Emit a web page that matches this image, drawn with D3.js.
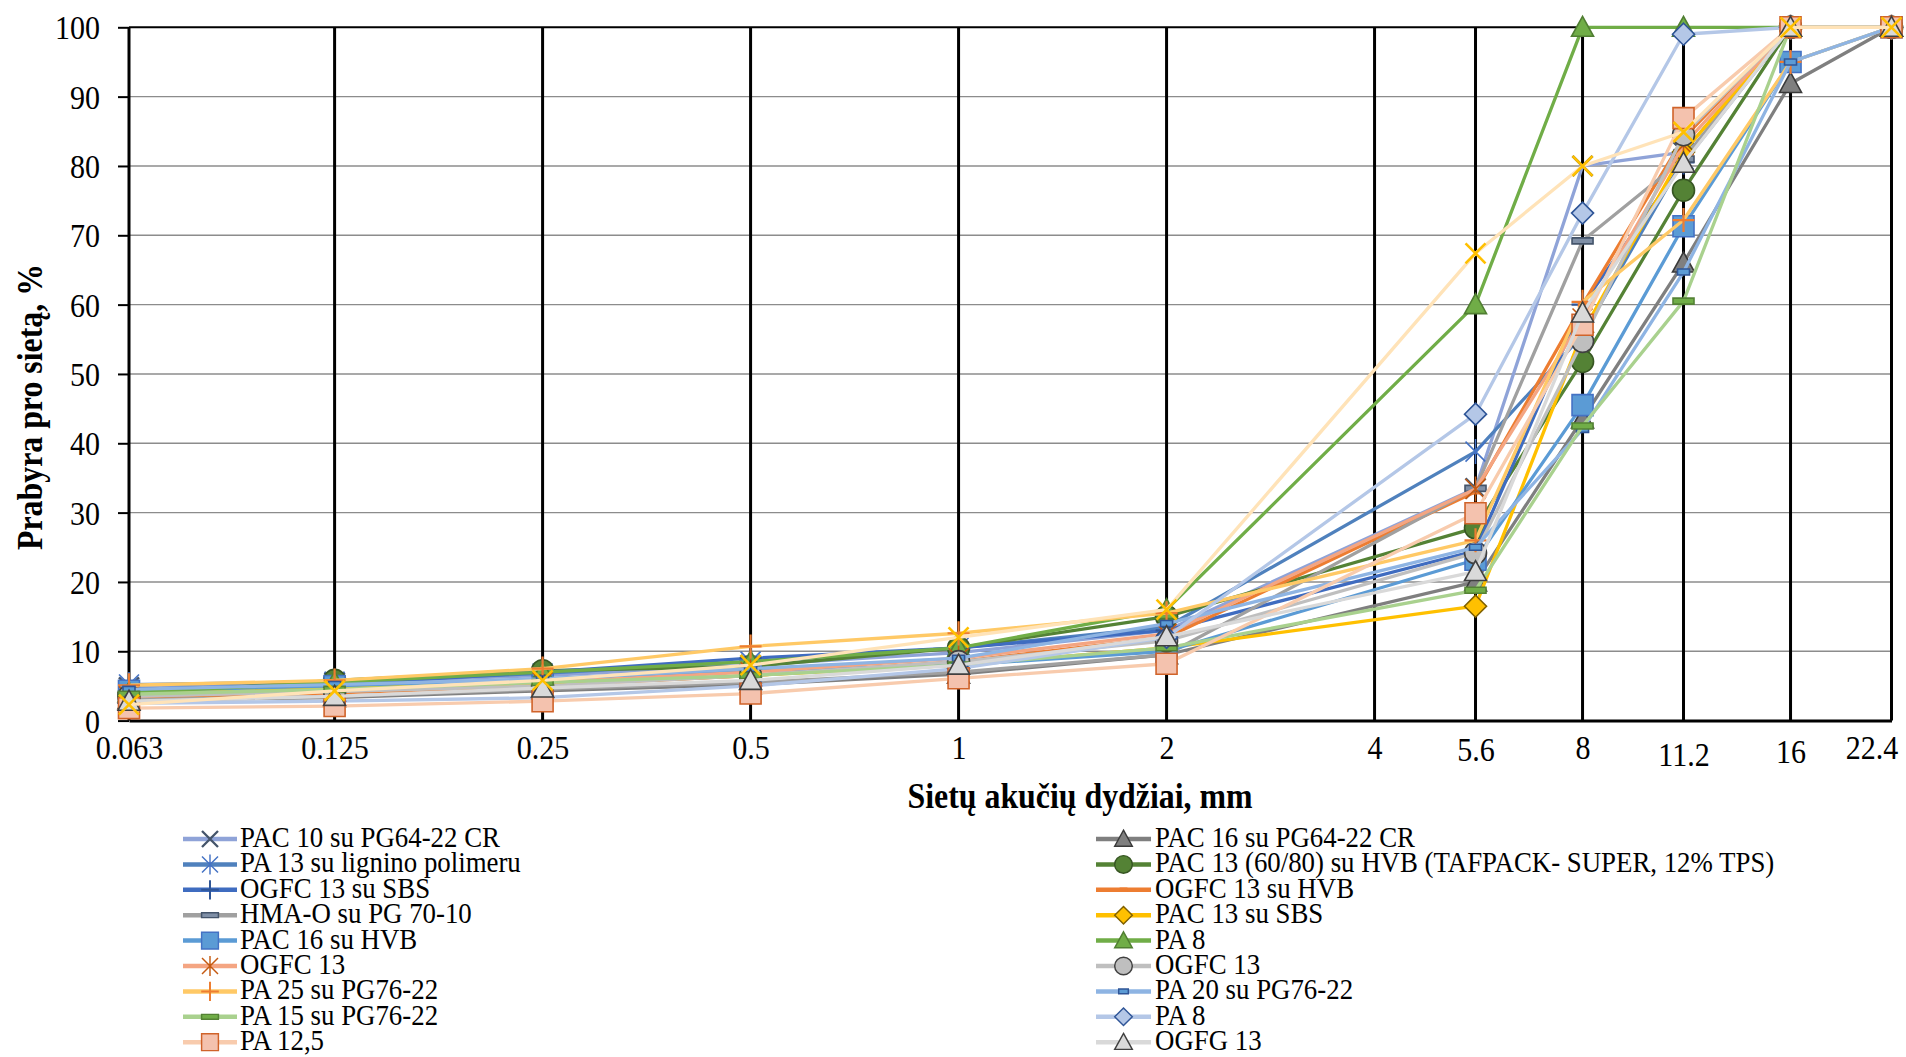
<!DOCTYPE html>
<html>
<head>
<meta charset="utf-8">
<script src="https://cdn.jsdelivr.net/npm/d3@7"></script>
<style>
  body { margin: 0; background: #fff; }
  svg { display: block; }
  text { font-family: "Liberation Serif", "Times New Roman", serif !important; fill: #000; }
</style>
</head>
<body>
<svg id="chart" width="1906" height="1057"></svg>
<script>
// Sieve sizes (mm) that carry measurements, and the sizes that get a vertical line + label
const sieves = [0.063, 0.125, 0.25, 0.5, 1, 2, 5.6, 8, 11.2, 16, 22.4];
const gridSieves = [0.063, 0.125, 0.25, 0.5, 1, 2, 4, 5.6, 8, 11.2, 16, 22.4];
const yTickValues = [0, 10, 20, 30, 40, 50, 60, 70, 80, 90, 100];

// Passing percentages per mixture, one value per entry of `sieves`
const pac10Cr      = [4.8, 5.5, 6.5, 8.0, 9.8, 13.0, 33.5, 80.0, 82.0, 100, 100];
const pac16Cr      = [3.0, 3.3, 4.3, 5.2, 6.7, 9.5, 20.0, 43.5, 66.0, 91.9, 100];
const pa13Lignin   = [5.2, 5.6, 6.8, 8.5, 10.5, 13.5, 38.8, 55.6, 81.0, 100, 100];
const pac13Tps     = [3.8, 5.8, 7.2, 7.8, 10.5, 15.0, 27.8, 51.8, 76.5, 100, 100];
const ogfc13Sbs    = [4.5, 5.2, 7.0, 9.0, 10.5, 13.0, 24.5, 60.0, 80.5, 100, 100];
const ogfc13Hvb    = [3.3, 4.0, 5.0, 6.5, 8.5, 12.0, 33.0, 60.0, 84.0, 100, 100];
const hmaO         = [3.0, 3.5, 4.5, 5.5, 7.0, 9.5, 33.5, 69.2, 81.0, 100, 100];
const pac13Sbs     = [4.0, 4.8, 5.2, 6.5, 8.0, 10.5, 16.5, 56.0, 82.0, 100, 100];
const pac16Hvb     = [4.3, 5.0, 6.0, 7.2, 8.0, 10.0, 23.2, 45.5, 71.3, 95.0, 100];
const pa8Tri       = [4.0, 5.5, 7.0, 8.5, 10.5, 16.0, 60.0, 100, 100, 100, 100];
const ogfc13Star   = [3.5, 4.3, 5.5, 7.0, 9.0, 12.5, 33.4, 58.0, 83.0, 100, 100];
const ogfc13Circle = [3.5, 4.2, 5.0, 6.5, 8.5, 11.5, 24.2, 54.7, 84.5, 100, 100];
const pa25         = [5.1, 5.8, 7.5, 10.7, 12.6, 15.5, 26.0, 60.4, 72.2, 95.0, 100];
const pa20         = [4.5, 5.2, 6.0, 7.5, 9.0, 14.0, 25.0, 42.0, 64.7, 95.0, 100];
const pa15         = [3.8, 4.5, 5.5, 6.5, 8.0, 10.5, 18.8, 42.5, 60.5, 100, 100];
const pa8Diamond   = [2.5, 2.8, 3.3, 5.0, 7.5, 12.0, 44.2, 73.2, 99.0, 100, 100];
const pa125        = [1.8, 2.1, 2.8, 3.9, 6.1, 8.2, 29.9, 57.1, 86.9, 100, 100];
const ogfg13       = [2.8, 3.5, 4.7, 5.8, 8.0, 12.1, 21.5, 58.8, 80.4, 100, 100];
const series19     = [2.3, 4.3, 5.8, 8.0, 12.0, 16.0, 67.4, 80.0, 84.9, 100, 100];

const seriesNames = [
  "PAC 10 su PG64-22 CR", "PAC 16 su PG64-22 CR",
  "PA 13 su lignino polimeru", "PAC 13 (60/80) su HVB (TAFPACK- SUPER, 12% TPS)",
  "OGFC 13 su SBS", "OGFC 13 su HVB",
  "HMA-O su PG 70-10", "PAC 13 su SBS",
  "PAC 16 su HVB", "PA 8",
  "OGFC 13", "OGFC 13",
  "PA 25 su PG76-22", "PA 20 su PG76-22",
  "PA 15 su PG76-22", "PA 8",
  "PA 12,5", "OGFG 13",
  "Serija 19"
];
const seriesValues = [
  pac10Cr, pac16Cr, pa13Lignin, pac13Tps, ogfc13Sbs, ogfc13Hvb, hmaO, pac13Sbs,
  pac16Hvb, pa8Tri, ogfc13Star, ogfc13Circle, pa25, pa20, pa15, pa8Diamond,
  pa125, ogfg13, series19
];
const legendCount = 18;

// Line colour and marker look for each series (same order)
const seriesStyles = [
  { line: "#8FA3D8", marker: "x",        stroke: "#44546A", fill: "none" },
  { line: "#7F7F7F", marker: "triangle", stroke: "#3A3A3A", fill: "#7F7F7F" },
  { line: "#4F81BD", marker: "asterisk", stroke: "#4472C4", fill: "none" },
  { line: "#548235", marker: "circle",   stroke: "#375623", fill: "#548235" },
  { line: "#3F6CC0", marker: "plus",     stroke: "#2F5597", fill: "none" },
  { line: "#ED7D31", marker: "tinydash", stroke: "#ED7D31", fill: "#ED7D31" },
  { line: "#A0A0A0", marker: "dash",     stroke: "#44546A", fill: "#7F8FA6" },
  { line: "#FFC000", marker: "diamond",  stroke: "#7F6000", fill: "#FFC000" },
  { line: "#5B9BD5", marker: "square",   stroke: "#4472C4", fill: "#5B9BD5" },
  { line: "#70AD47", marker: "triangle", stroke: "#507E32", fill: "#70AD47" },
  { line: "#F4A582", marker: "asterisk", stroke: "#C55A11", fill: "none" },
  { line: "#BFBFBF", marker: "circle",   stroke: "#404040", fill: "#BFBFBF" },
  { line: "#FFC966", marker: "plus",     stroke: "#ED7D31", fill: "none" },
  { line: "#8EB4E3", marker: "smallrect",stroke: "#2F5597", fill: "#5B9BD5" },
  { line: "#A9D18E", marker: "dash",     stroke: "#548235", fill: "#70AD47" },
  { line: "#B4C7E7", marker: "diamond",  stroke: "#2F5597", fill: "#B4C7E7" },
  { line: "#F8CBAD", marker: "square",   stroke: "#D0632A", fill: "#F4C2AE" },
  { line: "#D9D9D9", marker: "triangle", stroke: "#404040", fill: "#D9D9D9" },
  { line: "#FFE3B8", marker: "x",        stroke: "#FFC000", fill: "none" }
];

const SQUEEZE = 0.91; // horizontal text condensing
const svg = d3.select("#chart");

const x = d3.scaleLog().domain([0.063, 22.4]).range([129, 1891.5]);
const y = d3.scaleLinear().domain([0, 100]).range([720.6, 27.3]);

function addText(parent, px, py, str, size, opts = {}) {
  const rot = opts.rotate ? ` rotate(${opts.rotate})` : "";
  return parent.append("text")
    .attr("transform", `translate(${px},${py})${rot} scale(${SQUEEZE},1)`)
    .attr("text-anchor", opts.anchor || "start")
    .style("font-size", size + "px")
    .style("font-weight", opts.weight || "normal")
    .text(str);
}

// marker outlines centred on 0,0
function markerShape(type, k = 1) {
  const p = d3.path();
  const h = 10 * k;
  switch (type) {
    case "x":
      p.moveTo(-h, -h); p.lineTo(h, h); p.moveTo(-h, h); p.lineTo(h, -h); break;
    case "asterisk":
      p.moveTo(-h, -h); p.lineTo(h, h); p.moveTo(-h, h); p.lineTo(h, -h);
      p.moveTo(0, -h * 1.25); p.lineTo(0, h * 1.25); break;
    case "plus":
      p.moveTo(-h * 1.1, 0); p.lineTo(h * 1.1, 0); p.moveTo(0, -h * 1.2); p.lineTo(0, h * 1.2); break;
    case "triangle":
      p.moveTo(0, -11 * k); p.lineTo(11 * k, 9 * k); p.lineTo(-11 * k, 9 * k); p.closePath(); break;
    case "circle":
      p.arc(0, 0, 11 * k, 0, 2 * Math.PI); p.closePath(); break;
    case "diamond":
      p.moveTo(0, -11 * k); p.lineTo(11 * k, 0); p.lineTo(0, 11 * k); p.lineTo(-11 * k, 0); p.closePath(); break;
    case "square":
      p.rect(-10.5 * k, -10.5 * k, 21 * k, 21 * k); break;
    case "dash":
      p.rect(-10.5 * k, -3 * k, 21 * k, 6 * k); break;
    case "smallrect":
      p.rect(-6 * k, -3 * k, 12 * k, 6 * k); break;
    case "tinydash":
      p.rect(-4 * k, -2 * k, 8 * k, 4 * k); break;
  }
  return p.toString();
}
function markerStrokeWidth(type) {
  if (type === "x") return 2.6;
  if (type === "asterisk") return 1.6;
  if (type === "plus") return 2.2;
  return 1.6;
}

// ---- grid ----
const grid = svg.append("g");
grid.selectAll("line.h")
  .data(yTickValues.filter(v => v > 0))
  .join("line")
  .attr("x1", x(0.063)).attr("x2", x(22.4))
  .attr("y1", d => y(d)).attr("y2", d => y(d))
  .attr("stroke", d => d === 100 ? "#000" : "#8C8C8C")
  .attr("stroke-width", d => d === 100 ? 2 : 1.4);

grid.selectAll("line.v")
  .data(gridSieves)
  .join("line")
  .attr("x1", d => x(d)).attr("x2", d => x(d))
  .attr("y1", y(0)).attr("y2", y(100))
  .attr("stroke", "#000")
  .attr("stroke-width", 3);

// ---- axes ----
const yAxisG = svg.append("g").attr("transform", `translate(${x(0.063)},0)`)
  .call(d3.axisLeft(y).tickValues(yTickValues).tickSize(11).tickPadding(18));
yAxisG.attr("font-family", null).attr("font-size", null);
yAxisG.select(".domain").remove();
yAxisG.selectAll(".tick line").attr("stroke", "#000").attr("stroke-width", 2);
yAxisG.selectAll(".tick text")
  .attr("fill", "#000")
  .style("font-size", "33px")
  .attr("dy", "0.35em")
  .each(function () {
    const t = d3.select(this);
    t.attr("x", +t.attr("x") / SQUEEZE).attr("transform", `scale(${SQUEEZE},1)`);
  });

// small per-label offsets [dx, dy] along the size axis
const labelNudge = { 5.6: [0, 2], 11.2: [0, 7], 16: [0, 4], 22.4: [-20, 0] };
const xAxisG = svg.append("g").attr("transform", `translate(0,${y(0)})`)
  .call(d3.axisBottom(x).tickValues(gridSieves).tickSize(0).tickPadding(15)
    .tickFormat(d => String(d)));
xAxisG.attr("font-family", null).attr("font-size", null);
xAxisG.select(".domain").attr("stroke", "#000").attr("stroke-width", 3);
xAxisG.selectAll(".tick text")
  .attr("fill", "#000")
  .style("font-size", "33px")
  .attr("transform", d => {
    const n = labelNudge[d] || [0, 0];
    return `translate(${n[0]},${n[1]}) scale(${SQUEEZE},1)`;
  });

// axis titles
addText(svg, 1080, 808, "Sietų akučių dydžiai, mm", 35, { anchor: "middle", weight: "bold" });
addText(svg, 42, 407, "Prabyra pro sietą, %", 35, { anchor: "middle", weight: "bold", rotate: -90 });

// ---- series ----
const line = d3.line().x(d => x(d.s)).y(d => y(d.v));
const plot = svg.append("g");
seriesValues.forEach((vals, i) => {
  const st = seriesStyles[i];
  const pts = vals.map((v, j) => ({ s: sieves[j], v }));
  const g = plot.append("g");
  g.append("path")
    .attr("d", line(pts))
    .attr("fill", "none")
    .attr("stroke", st.line)
    .attr("stroke-width", 3.3)
    .attr("stroke-linejoin", "round");
  g.selectAll("path.m")
    .data(pts)
    .join("path")
    .attr("transform", d => `translate(${x(d.s)},${y(d.v)})`)
    .attr("d", markerShape(st.marker))
    .attr("fill", st.fill)
    .attr("stroke", st.stroke)
    .attr("stroke-width", markerStrokeWidth(st.marker));
});

// ---- legend (two columns, filled row by row) ----
const legend = svg.append("g");
const colLine = [[183, 237], [1096, 1151]];
const colText = [240, 1155];
for (let i = 0; i < legendCount; i++) {
  const col = i % 2, row = Math.floor(i / 2);
  const base = 847 + row * 25.4;
  const ly = base - 8;
  const st = seriesStyles[i];
  legend.append("line")
    .attr("x1", colLine[col][0]).attr("x2", colLine[col][1])
    .attr("y1", ly).attr("y2", ly)
    .attr("stroke", st.line).attr("stroke-width", 4.5);
  legend.append("path")
    .attr("transform", `translate(${(colLine[col][0] + colLine[col][1]) / 2},${ly})`)
    .attr("d", markerShape(st.marker, 0.8))
    .attr("fill", st.fill)
    .attr("stroke", st.stroke)
    .attr("stroke-width", markerStrokeWidth(st.marker) * 0.9);
  addText(legend, colText[col], base, seriesNames[i], 29.5);
}
</script>
</body>
</html>
